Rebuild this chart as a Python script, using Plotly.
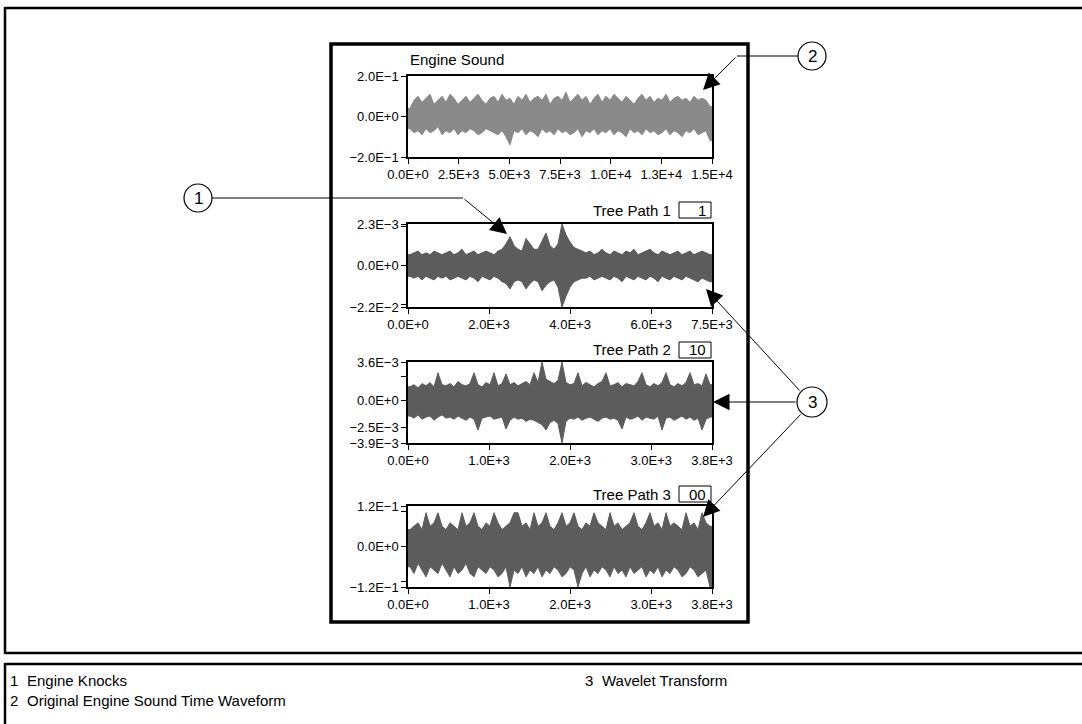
import plotly.graph_objects as go

W, H = 1082, 724

# ---------------- data (envelopes) ----------------
# Engine Sound (units 0.01), x range 0..15000
p1_upper = [4, 8, 10, 7, 9, 11, 6, 8, 10, 7,
            11, 9, 6, 8, 10, 7, 9, 11, 8, 6,
            9, 10, 7, 11, 8, 9, 6, 10, 8, 11,
            7, 9, 10, 8, 11, 6, 9, 10, 8, 12,
            7, 9, 11, 8, 10, 6, 9, 11, 7, 10,
            8, 11, 9, 7, 10, 8, 6, 9, 11, 8,
            10, 7, 9, 8, 11, 7, 9, 10, 8, 9,
            7, 10, 8, 9, 8, 5]
p1_lower = [-6, -8, -7, -9, -6, -8, -7, -5, -9, -7,
            -8, -6, -9, -7, -8, -6, -7, -9, -8, -6,
            -7, -8, -9, -7, -10, -14, -7, -8, -6, -9,
            -7, -8, -10, -6, -8, -7, -9, -6, -8, -7,
            -9, -8, -6, -10, -7, -8, -6, -9, -7, -8,
            -6, -9, -7, -8, -10, -6, -8, -7, -9, -6,
            -8, -7, -9, -8, -6, -9, -7, -8, -10, -7,
            -8, -6, -9, -8, -7, -12]

# Tree Path 1 (units 1e-3), x range 0..7500
p2_upper = [0.6, 0.7, 0.8, 0.6, 0.7, 0.6, 0.8, 0.7, 0.6, 0.7,
            0.8, 0.6, 0.7, 0.9, 0.6, 0.7, 0.8, 0.6, 0.7, 0.8,
            0.7, 0.6, 0.8, 0.9,
            1.2, 1.6, 1.1, 0.9, 0.8, 1.5,
            1.2, 0.9, 0.9, 1.4, 1.8, 1.1, 0.9, 1.2, 2.3, 1.7,
            1.3, 1.0, 0.9, 0.8,
            0.7, 0.8, 0.6, 0.7, 0.9, 0.7, 0.6, 0.8, 0.7, 0.6,
            0.8, 0.7, 0.9, 0.6, 0.7, 0.8, 0.9, 0.7, 0.6, 0.8,
            0.7, 0.6, 0.7, 0.8, 0.6, 0.7, 0.8, 0.6, 0.7, 0.8,
            0.7, 0.6]
p2_lower = [-0.6, -0.7, -0.6, -0.8, -0.6, -0.7, -0.8, -0.6, -0.7, -0.6,
            -0.8, -0.7, -0.6, -0.7, -0.8, -0.6, -0.7, -0.9, -0.6, -0.7,
            -0.8, -0.6, -0.7, -0.9,
            -1.0, -1.3, -0.9, -0.8, -0.9, -1.3,
            -1.0, -0.8, -0.9, -1.4, -1.1, -0.9, -0.8, -1.2, -2.3, -1.7,
            -1.2, -0.9, -0.8, -0.7,
            -0.7, -0.6, -0.8, -0.7, -0.6, -0.7, -0.8, -0.6, -0.7, -0.9,
            -0.6, -0.7, -0.8, -0.6, -0.7, -0.8, -0.6, -0.7, -0.9, -0.6,
            -0.7, -0.8, -0.6, -0.7, -0.8, -0.6, -0.7, -0.8, -0.9, -0.7,
            -0.8, -0.9]

# Tree Path 2 (units 1e-3), x range 0..3750
p3_upper = [1.3, 1.5, 1.2, 1.6, 1.4, 1.7, 1.3, 2.6, 1.5, 1.4,
            1.6, 1.3, 1.8, 1.5, 1.4, 1.6, 2.6, 1.5, 1.3, 1.7,
            1.5, 2.6, 1.4, 1.6, 2.5, 1.5, 1.7, 1.4, 1.6, 1.8,
            1.5, 2.6, 1.7, 3.6, 2.0, 1.8, 1.6, 1.9, 3.6, 1.7,
            1.5, 1.6, 2.6, 1.4, 1.7, 1.5, 1.3, 1.6, 1.8, 2.6,
            1.4, 1.5, 1.7, 1.3, 1.6, 1.5, 1.4, 1.8, 2.6, 1.5,
            1.3, 1.6, 1.4, 1.7, 2.6, 1.5, 1.3, 1.6, 1.4, 1.7,
            2.6, 1.5, 1.6, 1.4, 2.5, 1.5]
p3_lower = [-1.4, -1.6, -1.3, -1.7, -1.5, -1.4, -1.8, -1.5, -1.3, -1.6,
            -1.5, -1.7, -1.4, -1.6, -1.8, -1.5, -1.7, -2.7, -1.6, -1.5,
            -1.4, -1.7, -1.6, -1.5, -2.6, -1.8, -1.5, -1.7, -1.6, -1.9,
            -1.7, -1.8, -2.0, -2.2, -2.7, -2.0, -1.8, -2.1, -3.9, -1.9,
            -1.6, -1.7, -1.5, -1.8, -1.6, -1.5, -1.7, -1.9, -1.6, -1.5,
            -1.7, -1.6, -1.8, -2.6, -1.5, -1.7, -1.6, -1.4, -1.8, -1.5,
            -1.6, -1.7, -1.4, -2.7, -1.6, -1.5, -1.8, -1.6, -1.4, -1.7,
            -1.5, -1.8, -1.6, -2.7, -1.7, -1.5]

# Tree Path 3 (units 0.01), x range 0..3750
p4_upper = [5, 6, 7, 5, 10, 6, 7, 10, 6, 5,
            7, 6, 5, 10, 6, 7, 10, 6, 5, 7,
            6, 10, 7, 5, 6, 7, 10, 10, 6, 7,
            5, 10, 6, 7, 10, 6, 5, 7, 10, 6,
            7, 10, 6, 5, 7, 6, 10, 7, 6, 5,
            10, 6, 7, 5, 6, 7, 10, 6, 5, 7,
            10, 6, 7, 5, 10, 6, 7, 6, 5, 10,
            6, 7, 5, 10, 7, 6]
p4_lower = [-6, -8, -5, -7, -9, -6, -7, -8, -5, -7,
            -9, -6, -8, -7, -5, -8, -9, -6, -7, -8,
            -6, -7, -9, -8, -6, -12, -7, -8, -6, -9,
            -7, -8, -6, -9, -7, -8, -6, -7, -9, -8,
            -6, -7, -12, -8, -6, -9, -7, -8, -6, -7,
            -9, -6, -8, -7, -9, -6, -8, -7, -6, -9,
            -7, -8, -6, -9, -7, -8, -6, -7, -9, -8,
            -6, -7, -9, -8, -7, -12]

# axis ticks
p1_xticks = [0, 2500, 5000, 7500, 10000, 12500, 15000]
p1_xlabels = ["0.0E+0", "2.5E+3", "5.0E+3", "7.5E+3", "1.0E+4", "1.3E+4", "1.5E+4"]
p2_xticks = [0, 2000, 4000, 6000, 7500]
p2_xlabels = ["0.0E+0", "2.0E+3", "4.0E+3", "6.0E+3", "7.5E+3"]
p34_xticks = [0, 1000, 2000, 3000, 3750]
p34_xlabels = ["0.0E+0", "1.0E+3", "2.0E+3", "3.0E+3", "3.8E+3"]

p1_yticks = [0.2, 0.0, -0.2]
p1_ylabels = ["2.0E\u22121", "0.0E+0", "\u22122.0E\u22121"]
p2_yticks = [2.3e-3, 2.15e-3, 0.0, -2.15e-3, -2.3e-3]
p2_ylabels = ["2.3E\u22123", "", "0.0E+0", "", "\u22122.2E\u22122"]
p3_yticks = [3.6e-3, 2.3e-3, 0.0, -2.5e-3, -3.9e-3]
p3_ylabels = ["3.6E\u22123", "", "0.0E+0", "\u22122.5E\u22123", "\u22123.9E\u22123"]
p4_yticks = [0.12, 0.105, 0.0, -0.105, -0.12]
p4_ylabels = ["1.2E\u22121", "", "0.0E+0", "", "\u22121.2E\u22121"]

FONT = "Liberation Sans, Arial, Helvetica, sans-serif"


def fx(px):
    return px / W


def fy(py):
    return 1 - py / H


panels = [
    (p1_upper, p1_lower, 0.01, 15000, "#8a8a8a", (408, 712), (76, 157),
     p1_xticks, p1_xlabels, p1_yticks, p1_ylabels, [-0.2, 0.2]),
    (p2_upper, p2_lower, 1e-3, 7500, "#5c5c5c", (408, 712), (224, 307),
     p2_xticks, p2_xlabels, p2_yticks, p2_ylabels, [-2.3e-3, 2.3e-3]),
    (p3_upper, p3_lower, 1e-3, 3750, "#5c5c5c", (408, 712), (362, 443),
     p34_xticks, p34_xlabels, p3_yticks, p3_ylabels, [-3.9e-3, 3.6e-3]),
    (p4_upper, p4_lower, 0.01, 3750, "#5c5c5c", (408, 712), (506, 587),
     p34_xticks, p34_xlabels, p4_yticks, p4_ylabels, [-0.12, 0.12]),
]

fig = go.Figure()
layout = dict(
    template="none",
    width=W, height=H, autosize=False,
    margin=dict(l=0, r=0, t=0, b=0, pad=0, autoexpand=False),
    paper_bgcolor="white", plot_bgcolor="white", showlegend=False,
    font=dict(family=FONT, size=13, color="black"),
)

for k, (up, lo, sc, xmax, col, (x0, x1), (y0, y1), xt, xl, yt, yl, yr) in enumerate(panels):
    n = min(len(up), len(lo))
    w = xmax / n
    xs = [0.0] + [(i + 0.5) * w for i in range(n)] + [float(xmax)]
    ylo = [lo[0] * sc] + [v * sc for v in lo[:n]] + [lo[n - 1] * sc]
    yhi = [up[0] * sc] + [v * sc for v in up[:n]] + [up[n - 1] * sc]
    sfx = "" if k == 0 else str(k + 1)
    fig.add_trace(go.Scatter(x=xs, y=ylo, mode="lines",
                             line=dict(color=col, width=1),
                             xaxis="x" + sfx, yaxis="y" + sfx, hoverinfo="skip"))
    fig.add_trace(go.Scatter(x=xs, y=yhi, mode="lines", fill="tonexty",
                             fillcolor=col, line=dict(color=col, width=1),
                             xaxis="x" + sfx, yaxis="y" + sfx, hoverinfo="skip"))
    common = dict(showline=True, linecolor="black", linewidth=1.5, mirror=True,
                  ticks="outside", ticklen=5, tickwidth=1, tickcolor="black",
                  showgrid=False, zeroline=False, automargin=False,
                  tickfont=dict(size=13, family=FONT, color="black"),
                  fixedrange=True)
    layout["xaxis" + sfx] = dict(domain=[fx(x0), fx(x1)], anchor="y" + sfx,
                                 range=[0, xmax], tickvals=xt, ticktext=xl, **common)
    layout["yaxis" + sfx] = dict(domain=[fy(y1), fy(y0)], anchor="x" + sfx,
                                 range=yr, tickvals=yt, ticktext=yl, **common)

fig.update_layout(**layout)

shapes = []
annotations = []


def rect(x0, y0, x1, y1, width, fill=None):
    shapes.append(dict(type="rect", xref="paper", yref="paper",
                       x0=fx(x0), x1=fx(x1), y0=fy(y1), y1=fy(y0),
                       line=dict(color="black", width=width),
                       fillcolor=fill if fill else "rgba(0,0,0,0)", layer="above"))


def line(xa, ya, xb, yb, width=1):
    shapes.append(dict(type="line", xref="paper", yref="paper",
                       x0=fx(xa), y0=fy(ya), x1=fx(xb), y1=fy(yb),
                       line=dict(color="black", width=width), layer="above"))


def circle(cx, cy, r):
    shapes.append(dict(type="circle", xref="paper", yref="paper",
                       x0=fx(cx - r), x1=fx(cx + r), y0=fy(cy + r), y1=fy(cy - r),
                       line=dict(color="black", width=1.2), fillcolor="white",
                       layer="above"))


def text(x, y, s, size=14, xanchor="left"):
    annotations.append(dict(x=fx(x), y=fy(y), xref="paper", yref="paper", text=s,
                            showarrow=False, xanchor=xanchor, yanchor="middle",
                            font=dict(family=FONT, size=size, color="black")))


def arrow(tailx, taily, tipx, tipy):
    annotations.append(dict(x=fx(tipx), y=fy(tipy), xref="paper", yref="paper",
                            ax=tailx - tipx, ay=taily - tipy, text="",
                            showarrow=True, arrowhead=2, arrowsize=3.3,
                            arrowwidth=1, arrowcolor="black", standoff=0))


# outer frames (kept inside the page)
line(5, 8, 1082, 8, 2.5)
line(5, 653, 1082, 653, 2.5)
line(5, 7, 5, 654, 2.5)
line(5, 664, 1082, 664, 2.5)
line(5, 663, 5, 724, 2.5)
# front panel
rect(331, 44, 748, 622, 3.5)

# panel titles and tree-path boxes
text(408, 59, "Engine Sound", 15)
for lbl, val, yc in [("Tree Path 1", "1", 210), ("Tree Path 2", "10", 350),
                     ("Tree Path 3", "00", 494)]:
    text(673, yc, lbl, 15, xanchor="right")
    shapes.append(dict(type="rect", xref="paper", yref="paper",
                       x0=fx(679), x1=fx(711), y0=fy(yc + 8), y1=fy(yc - 8),
                       line=dict(color="black", width=1), fillcolor="white",
                       layer="above"))
    text(708, yc, val, 15, xanchor="right")

# callout 1
line(212, 198, 463, 198)
arrow(463, 198, 507, 234)
circle(198, 198, 14)
text(198, 198, "1", 17, xanchor="center")

# callout 2
line(798, 56, 737, 56)
arrow(737, 56, 703, 90)
circle(812, 56, 14)
text(812, 56, "2", 17, xanchor="center")

# callout 3
arrow(801, 392, 706, 289)
arrow(797, 402, 713, 402)
arrow(802, 413, 703, 517)
circle(812, 402, 15)
text(812, 402, "3", 17, xanchor="center")

# key
text(8, 680, "1", 15)
text(25, 680, "Engine Knocks", 15)
text(8, 700, "2", 15)
text(25, 700, "Original Engine Sound Time Waveform", 15)
text(583, 680, "3", 15)
text(600, 680, "Wavelet Transform", 15)

fig.update_layout(shapes=shapes, annotations=annotations)
fig.write_html("out.html")
